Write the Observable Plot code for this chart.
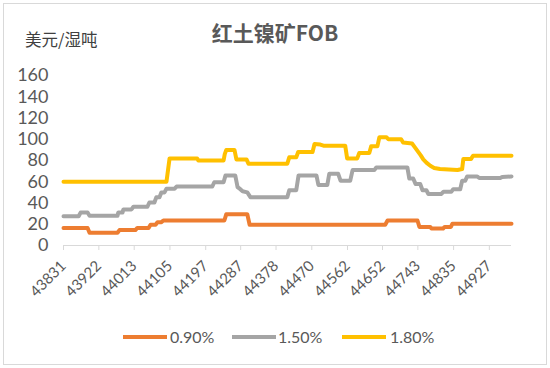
<!DOCTYPE html>
<html><head><meta charset="utf-8">
<script src="https://cdn.jsdelivr.net/npm/d3@7"></script>
<script src="https://cdn.jsdelivr.net/npm/@observablehq/plot@0.6"></script>
<style>
body{margin:0;background:#fff;}
#wrap{position:relative;width:550px;height:368px;overflow:hidden;background:#fff;}
#frame{position:absolute;left:3px;top:3px;width:544px;height:362px;border:1px solid #d9d9d9;box-sizing:border-box;}
#chart{position:absolute;left:0;top:0;}
#title{position:absolute;left:0;width:550px;top:19px;text-align:center;font-family:"Noto Sans CJK SC",sans-serif;font-size:21px;font-weight:bold;color:#595959;line-height:26px;}
#unit{position:absolute;left:25px;top:28px;font-family:"Noto Sans CJK SC",sans-serif;font-size:16.5px;color:#404040;line-height:22px;}
#legend{position:absolute;left:0;top:326px;width:550px;height:22px;font-family:Lato,sans-serif;font-size:16px;color:#595959;}
.item{position:absolute;top:0;line-height:22px;}
.sw{position:absolute;top:9px;height:4px;width:44px;}
</style></head>
<body>
<div id="wrap">
  <div id="frame"></div>
  <div id="chart"></div>
  <div id="title">红土镍矿FOB</div>
  <div id="unit">美元/湿吨</div>
  <div id="legend"></div>
</div>
<script>
const seriesNames = ["0.90%", "1.50%", "1.80%"];
const seriesColors = ["#ED7D31", "#A5A5A5", "#FFC000"];
const xTicks = [43831, 43922, 44013, 44105, 44197, 44287, 44378, 44470, 44562, 44652, 44743, 44835, 44927];
const yTicks = [0, 20, 40, 60, 80, 100, 120, 140, 160];

const dates090 = [43831, 43893, 43898, 43970, 43975, 44016, 44021, 44050, 44055, 44068, 44073, 44083, 44088, 44245, 44250, 44304, 44310, 44659, 44665, 44742, 44747, 44775, 44778, 44808, 44812, 44828, 44832, 44984];
const vals090  = [16.5, 16.5, 12, 12, 14.5, 14.5, 16.5, 16.5, 19.5, 19.5, 22, 22, 23.5, 23.5, 29.5, 29.5, 19.5, 19.5, 23.5, 23.5, 17.5, 17.5, 16, 16, 17.5, 17.5, 20.5, 20.5];

const dates150 = [43831, 43870, 43875, 43893, 43898, 43970, 43972, 43983, 43985, 44006, 44011, 44047, 44052, 44065, 44070, 44078, 44083, 44091, 44096, 44117, 44122, 44214, 44219, 44243, 44248, 44273, 44279, 44286, 44292, 44304, 44312, 44407, 44412, 44430, 44436, 44482, 44487, 44510, 44515, 44538, 44544, 44569, 44575, 44631, 44636, 44716, 44721, 44731, 44737, 44749, 44755, 44765, 44770, 44803, 44809, 44829, 44834, 44852, 44857, 44865, 44870, 44896, 44901, 44955, 44960, 44984];
const vals150  = [27.5, 27.5, 31, 31, 28, 28, 31, 31, 34, 34, 36.5, 36.5, 40.5, 40.5, 45.5, 45.5, 50, 50, 53.5, 53.5, 55.5, 55.5, 59.5, 59.5, 66, 66, 55, 53, 51, 50, 45.5, 45.5, 52, 52, 66, 66, 57, 57, 67.5, 67.5, 61, 61, 71, 71, 73.5, 73.5, 63, 63, 58, 58, 52, 52, 48.5, 48.5, 50.5, 50.5, 53, 53, 61, 61, 65, 65, 63.5, 63.5, 64.5, 65];

const dates180 = [43831, 44096, 44104, 44175, 44178, 44243, 44246, 44250, 44271, 44276, 44302, 44307, 44407, 44412, 44430, 44435, 44472, 44477, 44492, 44500, 44556, 44561, 44587, 44592, 44618, 44623, 44639, 44644, 44662, 44667, 44700, 44705, 44728, 44734, 44742, 44750, 44757, 44765, 44775, 44785, 44800, 44845, 44857, 44860, 44880, 44885, 44984];
const vals180  = [60, 60, 82, 82, 80, 80, 86, 90, 90, 81, 81, 77, 77, 83, 83, 88, 88, 95.5, 95, 94, 94, 82, 82, 87, 87, 93.5, 93.5, 102, 102, 100, 100, 97, 96, 93, 89, 85, 81, 78, 75, 73, 72, 71, 72, 81.5, 81.5, 84.5, 84.5];

const allDates = [dates090, dates150, dates180];
const allVals = [vals090, vals150, vals180];
const rows = [];
seriesNames.forEach((s, i) => allDates[i].forEach((d, j) => rows.push({series: s, date: d, value: allVals[i][j]})));

const chart = Plot.plot({
  width: 550, height: 368,
  marginLeft: 63, marginRight: 39, marginTop: 75, marginBottom: 123,
  x: {domain: [43831, 44984]},
  y: {domain: [0, 160]},
  color: {domain: seriesNames, range: seriesColors},
  style: {background: "transparent", fontFamily: "Lato, sans-serif", color: "#595959"},
  marks: [
    Plot.axisY({ticks: yTicks, tickSize: 0, tickPadding: 15, fontSize: 18, label: null, fill: "#595959"}),
    Plot.axisX({ticks: xTicks, tickFormat: d => String(d), tickRotate: -45, tickSize: 5, tickPadding: 13, stroke: "#d9d9d9", fill: "#595959", fontSize: 15, label: null}),
    Plot.ruleY([0], {stroke: "#d9d9d9", strokeWidth: 1}),
    Plot.line(rows, {x: "date", y: "value", z: "series", stroke: "series", strokeWidth: 4, strokeLinejoin: "round", strokeLinecap: "round"})
  ]
});
document.getElementById("chart").appendChild(chart);

const legendPos = [{sw: 123, tx: 170}, {sw: 232, tx: 278}, {sw: 342, tx: 390}];
const legend = document.getElementById("legend");
seriesNames.forEach((s, i) => {
  const sw = document.createElement("div");
  sw.className = "sw"; sw.style.left = legendPos[i].sw + "px"; sw.style.background = seriesColors[i];
  const tx = document.createElement("div");
  tx.className = "item"; tx.style.left = legendPos[i].tx + "px"; tx.textContent = s;
  legend.appendChild(sw); legend.appendChild(tx);
});
</script>
</body></html>
